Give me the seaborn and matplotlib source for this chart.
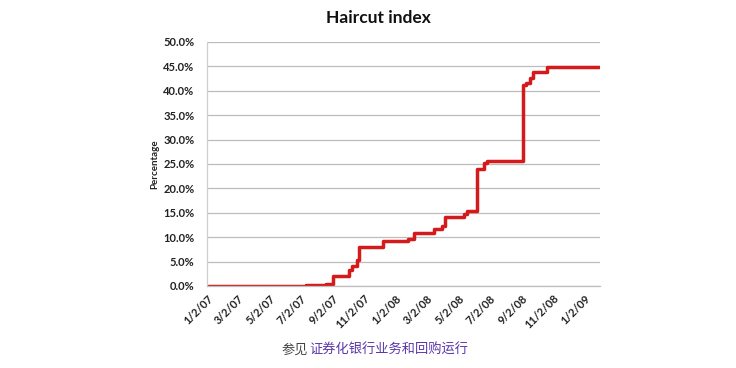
import matplotlib
matplotlib.use("Agg")
import matplotlib.pyplot as plt
import seaborn as sns
import pandas as pd
from matplotlib.ticker import FuncFormatter

# Step data (date of change, haircut %)
step_dates = ["2007-01-02", "2007-07-12", "2007-08-20", "2007-09-02", "2007-10-04",
              "2007-10-10", "2007-10-18", "2007-10-23", "2007-12-08", "2008-01-26",
              "2008-02-06", "2008-03-16", "2008-03-31", "2008-04-07", "2008-05-13",
              "2008-05-20", "2008-06-07", "2008-06-22", "2008-06-26", "2008-09-04",
              "2008-09-11", "2008-09-18", "2008-09-25", "2008-10-22", "2009-01-31"]
haircut_pct = [0.0, 0.2, 0.5, 2.0, 3.3,
               4.1, 5.3, 7.9, 9.3, 9.6,
               10.9, 11.6, 12.2, 14.2, 14.8,
               15.3, 24.0, 25.2, 25.7, 41.1,
               41.6, 42.6, 43.8, 44.9, 44.9]

tick_dates = ["2007-01-02", "2007-03-02", "2007-05-02", "2007-07-02", "2007-09-02",
              "2007-11-02", "2008-01-02", "2008-03-02", "2008-05-02", "2008-07-02",
              "2008-09-02", "2008-11-02", "2009-01-02"]
tick_labels = ["1/2/07", "3/2/07", "5/2/07", "7/2/07", "9/2/07", "11/2/07", "1/2/08",
               "3/2/08", "5/2/08", "7/2/08", "9/2/08", "11/2/08", "1/2/09"]
y_ticks = [0, 5, 10, 15, 20, 25, 30, 35, 40, 45, 50]

title = "Haircut index"
y_label = "Percentage"

sns.set_theme(style="white")
plt.rcParams['font.family'] = ['Lato', 'DejaVu Sans']

df = pd.DataFrame({"date": pd.to_datetime(step_dates), "haircut": haircut_pct})

fig = plt.figure(figsize=(7.36, 3.68), dpi=100)
ax = fig.add_axes([207/736, 1 - 286/368, (600-207)/736, (286-42)/368])

sns.lineplot(data=df, x="date", y="haircut", drawstyle="steps-post",
             color="#d41a1a", linewidth=2.5, ax=ax)

ax.set_xlim(pd.Timestamp("2007-01-01"), pd.Timestamp("2009-02-01"))
ax.set_ylim(0, 50)
ax.set_yticks(y_ticks)
ax.yaxis.set_major_formatter(FuncFormatter(lambda v, p: f"{v:.1f}%"))
ax.set_xticks(pd.to_datetime(tick_dates))
ax.set_xticklabels(tick_labels, rotation=45, ha="right", rotation_mode="anchor")
for lbl in ax.get_xticklabels() + ax.get_yticklabels():
    lbl.set_fontsize(8)
    lbl.set_fontweight("bold")
    lbl.set_color("#222222")
ax.tick_params(axis="x", length=0, pad=5)
ax.tick_params(axis="y", length=0, pad=9)

ax.grid(axis="y", color="#bdbdbd", linewidth=0.9)
ax.grid(axis="x", visible=False)
ax.set_axisbelow(True)
for s in ["top", "right"]:
    ax.spines[s].set_visible(False)
ax.spines["left"].set_color("#cfcfcf")
ax.spines["bottom"].set_color("#bdbdbd")
ax.spines["left"].set_linewidth(0.9)
ax.spines["bottom"].set_linewidth(0.9)

ax.set_xlabel("")
ax.set_ylabel(y_label, fontsize=7, fontweight="bold", color="#222222", labelpad=3)

fig.text(378/736, 1 - 18/368, title, ha="center", va="center",
         fontsize=12.5, fontweight="bold", color="#111111")

# Caption
cap_font = ['Noto Sans CJK SC', 'DejaVu Sans']
t1 = fig.text(282/736, 1 - 350/368, "参见", ha="left", va="center",
              fontsize=9.5, color="#444444", family=cap_font)
fig.canvas.draw()
bb = t1.get_window_extent()
fig.text((bb.x1 + 0.5)/736, 1 - 350/368, "证券化银行业务和回购运行", ha="left", va="center",
         fontsize=9.5, color="#5b36a8", family=cap_font)

fig.savefig("out.png", dpi=100)
